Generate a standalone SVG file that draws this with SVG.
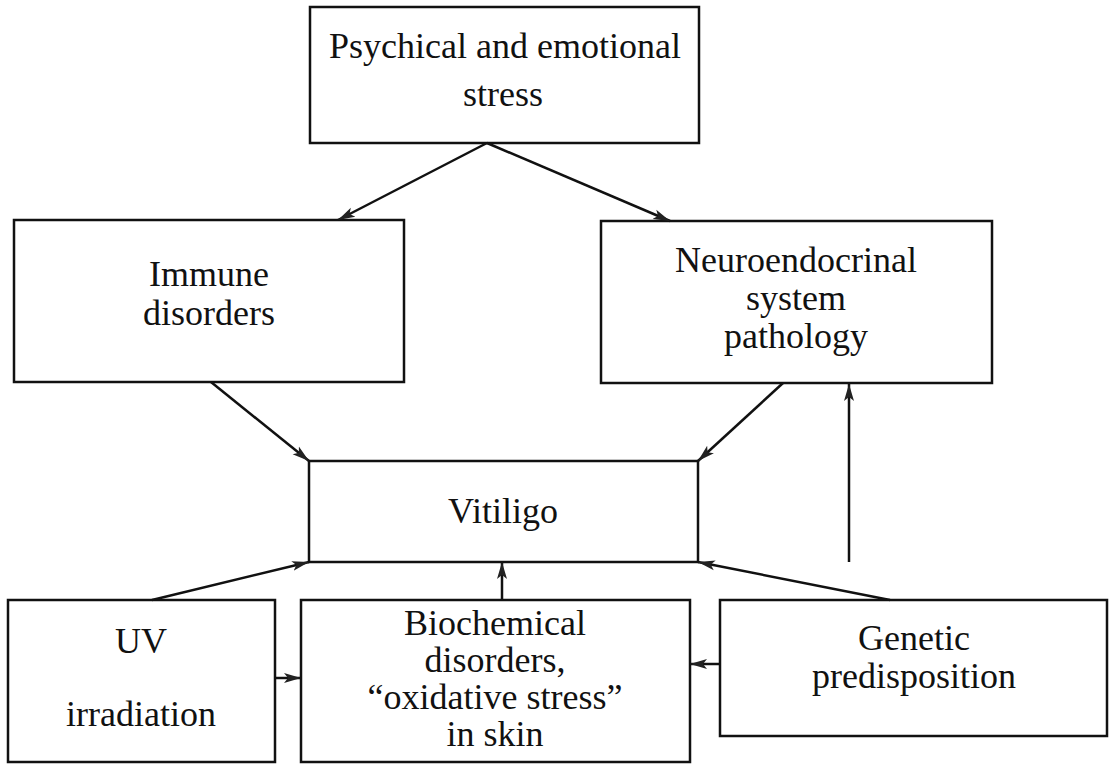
<svg xmlns="http://www.w3.org/2000/svg" width="1110" height="764" viewBox="0 0 1110 764">
  <style>
    .box { fill: #ffffff; stroke: #111111; stroke-width: 2.5; }
    .lbl { font-family: "Liberation Serif", "Times New Roman", serif; font-size: 36px; fill: #111111; text-anchor: middle; }
    .conn { stroke: #111111; stroke-width: 2.5; fill: none; marker-end: url(#arrow); }
  </style>
  <defs>
    <marker id="arrow" markerUnits="userSpaceOnUse" markerWidth="18" markerHeight="12" viewBox="0 0 18 12" refX="17" refY="6" orient="auto">
      <path d="M0,1 L17,6 L0,11 L4,6 Z" fill="#222222"/>
    </marker>
  </defs>
  <rect width="1110" height="764" fill="#ffffff"/>

  <g id="stress">
    <rect class="box" x="310" y="7" width="389" height="136"/>
    <text class="lbl" x="505" y="58">Psychical and emotional</text>
    <text class="lbl" x="503" y="106">stress</text>
  </g>

  <g id="immune">
    <rect class="box" x="14" y="220" width="390" height="162"/>
    <text class="lbl" x="209" y="286">Immune</text>
    <text class="lbl" x="209" y="325">disorders</text>
  </g>

  <g id="neuro">
    <rect class="box" x="601" y="221" width="391" height="162"/>
    <text class="lbl" x="796" y="272">Neuroendocrinal</text>
    <text class="lbl" x="796" y="310">system</text>
    <text class="lbl" x="796" y="348">pathology</text>
  </g>

  <g id="vitiligo">
    <rect class="box" x="309" y="461" width="389" height="101"/>
    <text class="lbl" x="503" y="523">Vitiligo</text>
  </g>

  <g id="uv">
    <rect class="box" x="8" y="600" width="267" height="162"/>
    <text class="lbl" x="141" y="653">UV</text>
    <text class="lbl" x="141" y="726">irradiation</text>
  </g>

  <g id="biochem">
    <rect class="box" x="301" y="600" width="389" height="162"/>
    <text class="lbl" x="495" y="635">Biochemical</text>
    <text class="lbl" x="495" y="672">disorders,</text>
    <text class="lbl" x="495" y="709">“oxidative stress”</text>
    <text class="lbl" x="495" y="746">in skin</text>
  </g>

  <g id="genetic">
    <rect class="box" x="720" y="600" width="387" height="136"/>
    <text class="lbl" x="914" y="650">Genetic</text>
    <text class="lbl" x="914" y="688">predisposition</text>
  </g>

  <g id="connectors">
    <line class="conn" x1="487" y1="143" x2="338" y2="220"/>
    <line class="conn" x1="487" y1="143" x2="670" y2="221"/>
    <line class="conn" x1="211" y1="382" x2="309" y2="461"/>
    <line class="conn" x1="783" y1="383" x2="698" y2="461"/>
    <line class="conn" x1="849" y1="562" x2="849" y2="384"/>
    <line class="conn" x1="152" y1="600" x2="309" y2="562"/>
    <line class="conn" x1="502" y1="600" x2="502" y2="562"/>
    <line class="conn" x1="890" y1="600" x2="698" y2="562"/>
    <line class="conn" x1="275" y1="678" x2="301" y2="678"/>
    <line class="conn" x1="720" y1="664" x2="690" y2="664"/>
  </g>
</svg>
